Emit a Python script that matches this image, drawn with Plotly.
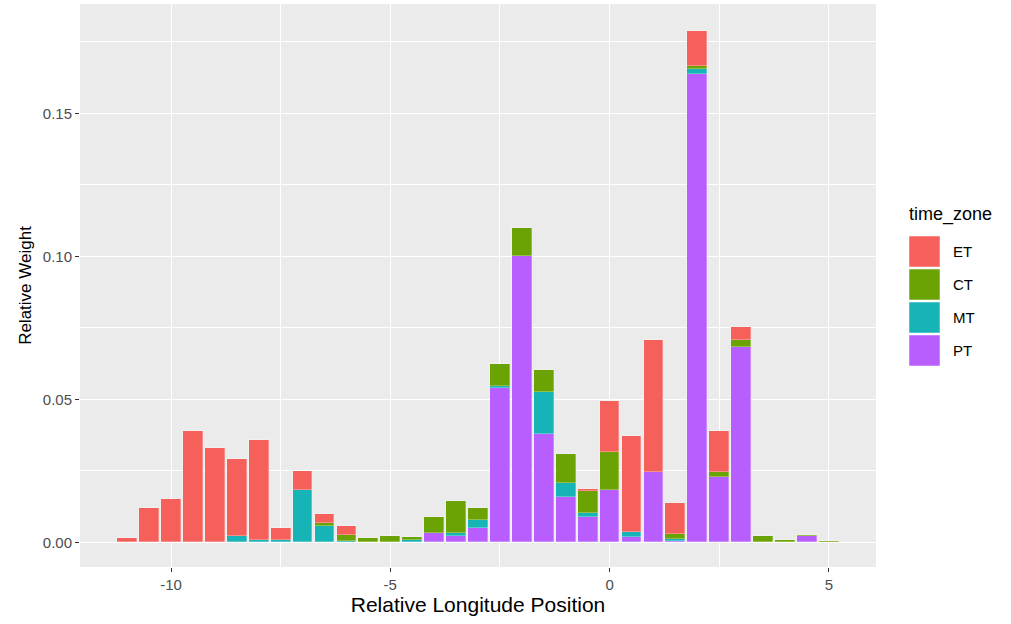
import plotly.graph_objects as go

# Bin centres (Relative Longitude Position), bin width 0.5
bins = [-11, -10.5, -10, -9.5, -9, -8.5, -8, -7.5, -7, -6.5, -6, -5.5, -5, -4.5, -4,
        -3.5, -3, -2.5, -2, -1.5, -1, -0.5, 0, 0.5, 1, 1.5, 2, 2.5, 3, 3.5, 4, 4.5, 5]

et = [0.0016, 0.0120, 0.0152, 0.0390, 0.0329, 0.0270, 0.0350, 0.0042, 0.0066, 0.0033, 0.0031,
      0, 0, 0, 0, 0, 0, 0, 0, 0, 0, 0.0008, 0.0177, 0.0336, 0.0462, 0.0109, 0.0123, 0.0142,
      0.0045, 0, 0, 0, 0]
ct = [0, 0, 0, 0, 0, 0, 0, 0, 0, 0.0010, 0.0021, 0.0014, 0.0018, 0.0010, 0.0054, 0.0111,
      0.0042, 0.0075, 0.0099, 0.0074, 0.0103, 0.0076, 0.0135, 0, 0, 0.0018, 0.0012, 0.0020,
      0.0025, 0.0022, 0.0010, 0.0005, 0.0005]
mt = [0, 0, 0, 0, 0, 0.0022, 0.0008, 0.0008, 0.0184, 0.0058, 0.0006, 0, 0.0003, 0.0010, 0,
      0.0009, 0.0027, 0.0006, 0, 0.0149, 0.0048, 0.0014, 0, 0.0017, 0, 0.0006, 0.0015, 0, 0,
      0, 0, 0, 0]
pt = [0, 0, 0, 0, 0, 0, 0, 0, 0, 0, 0, 0, 0, 0, 0.0034, 0.0024, 0.0052, 0.0541, 0.1001,
      0.0378, 0.0158, 0.0088, 0.0182, 0.0018, 0.0246, 0.0006, 0.1639, 0.0227, 0.0683, 0, 0,
      0.0022, 0]

zones = ["ET", "CT", "MT", "PT"]
series = {"ET": et, "CT": ct, "MT": mt, "PT": pt}
colors = {"ET": "#F5605B", "CT": "#6BA304", "MT": "#16B3B7", "PT": "#B85EFF"}

x_ticks = [-10, -5, 0, 5]
y_ticks = [0.00, 0.05, 0.10, 0.15]

font_family = "Liberation Sans, Arial, sans-serif"

fig = go.Figure()
# stack bottom-to-top: PT, MT, CT, ET
for z in reversed(zones):
    vals = [v if v > 0 else None for v in series[z]]
    fig.add_trace(go.Bar(
        x=bins, y=vals, name=z, width=0.45,
        marker=dict(color=colors[z], line=dict(color="rgba(255,255,255,0.35)", width=0.8)),
        showlegend=False,
    ))

# ggplot-like legend drawn in paper space
legend_x0, key = 909, 31
W, H = 1011, 624
ml, mr, mt_, mb = 80, 135, 4, 57
pw, ph = W - ml - mr, H - mt_ - mb

def px_to_paper(px, py):
    return (px - ml) / pw, (H - mb - py) / ph

shapes = []
annotations = []
tx, ty = px_to_paper(907, 215)
annotations.append(dict(x=tx, y=ty, xref="paper", yref="paper", text="time_zone",
                        showarrow=False, xanchor="left", yanchor="middle",
                        font=dict(size=18, color="#000000", family=font_family)))
for i, z in enumerate(zones):
    top = 236 + i * 33
    x0, y0 = px_to_paper(legend_x0, top + key)
    x1, y1 = px_to_paper(legend_x0 + key, top)
    shapes.append(dict(type="rect", xref="paper", yref="paper", x0=x0, y0=y0, x1=x1, y1=y1,
                       fillcolor=colors[z], line=dict(color="rgba(255,255,255,0.5)", width=1)))
    lx, ly = px_to_paper(951, top + key / 2)
    annotations.append(dict(x=lx, y=ly, xref="paper", yref="paper", text=z, showarrow=False,
                            xanchor="left", yanchor="middle",
                            font=dict(size=15, color="#000000", family=font_family)))

fig.update_layout(
    barmode="stack",
    bargap=0,
    width=W, height=H,
    margin=dict(l=ml, r=mr, t=mt_, b=mb),
    paper_bgcolor="white",
    plot_bgcolor="#EBEBEB",
    font=dict(family=font_family),
    shapes=shapes,
    annotations=annotations,
    showlegend=False,
    xaxis=dict(
        range=[-12.075, 6.075],
        tickvals=x_ticks, ticktext=[str(v) for v in x_ticks],
        showgrid=True, gridcolor="white", gridwidth=1.4,
        minor=dict(dtick=2.5, tick0=-7.5, showgrid=True, gridcolor="white", gridwidth=0.7, ticks=""),
        zeroline=False, showline=False,
        ticks="outside", ticklen=4, tickcolor="#333333", tickwidth=1,
        tickfont=dict(size=15, color="#4D4D4D"),
        title=dict(text="Relative Longitude Position", font=dict(size=21, color="#000000"), standoff=4),
    ),
    yaxis=dict(
        range=[-0.0086, 0.1882],
        tickvals=y_ticks, ticktext=["%.2f" % v for v in y_ticks],
        showgrid=True, gridcolor="white", gridwidth=1.4,
        minor=dict(dtick=0.025, tick0=0.025, showgrid=True, gridcolor="white", gridwidth=0.7, ticks=""),
        zeroline=False, showline=False,
        ticks="outside", ticklen=4, tickcolor="#333333", tickwidth=1,
        tickfont=dict(size=15, color="#4D4D4D"),
        title=dict(text="Relative Weight", font=dict(size=17, color="#000000"), standoff=6),
    ),
)

fig.write_html("out.html", config={"displayModeBar": False},
               post_script="document.body.style.margin='0';")
